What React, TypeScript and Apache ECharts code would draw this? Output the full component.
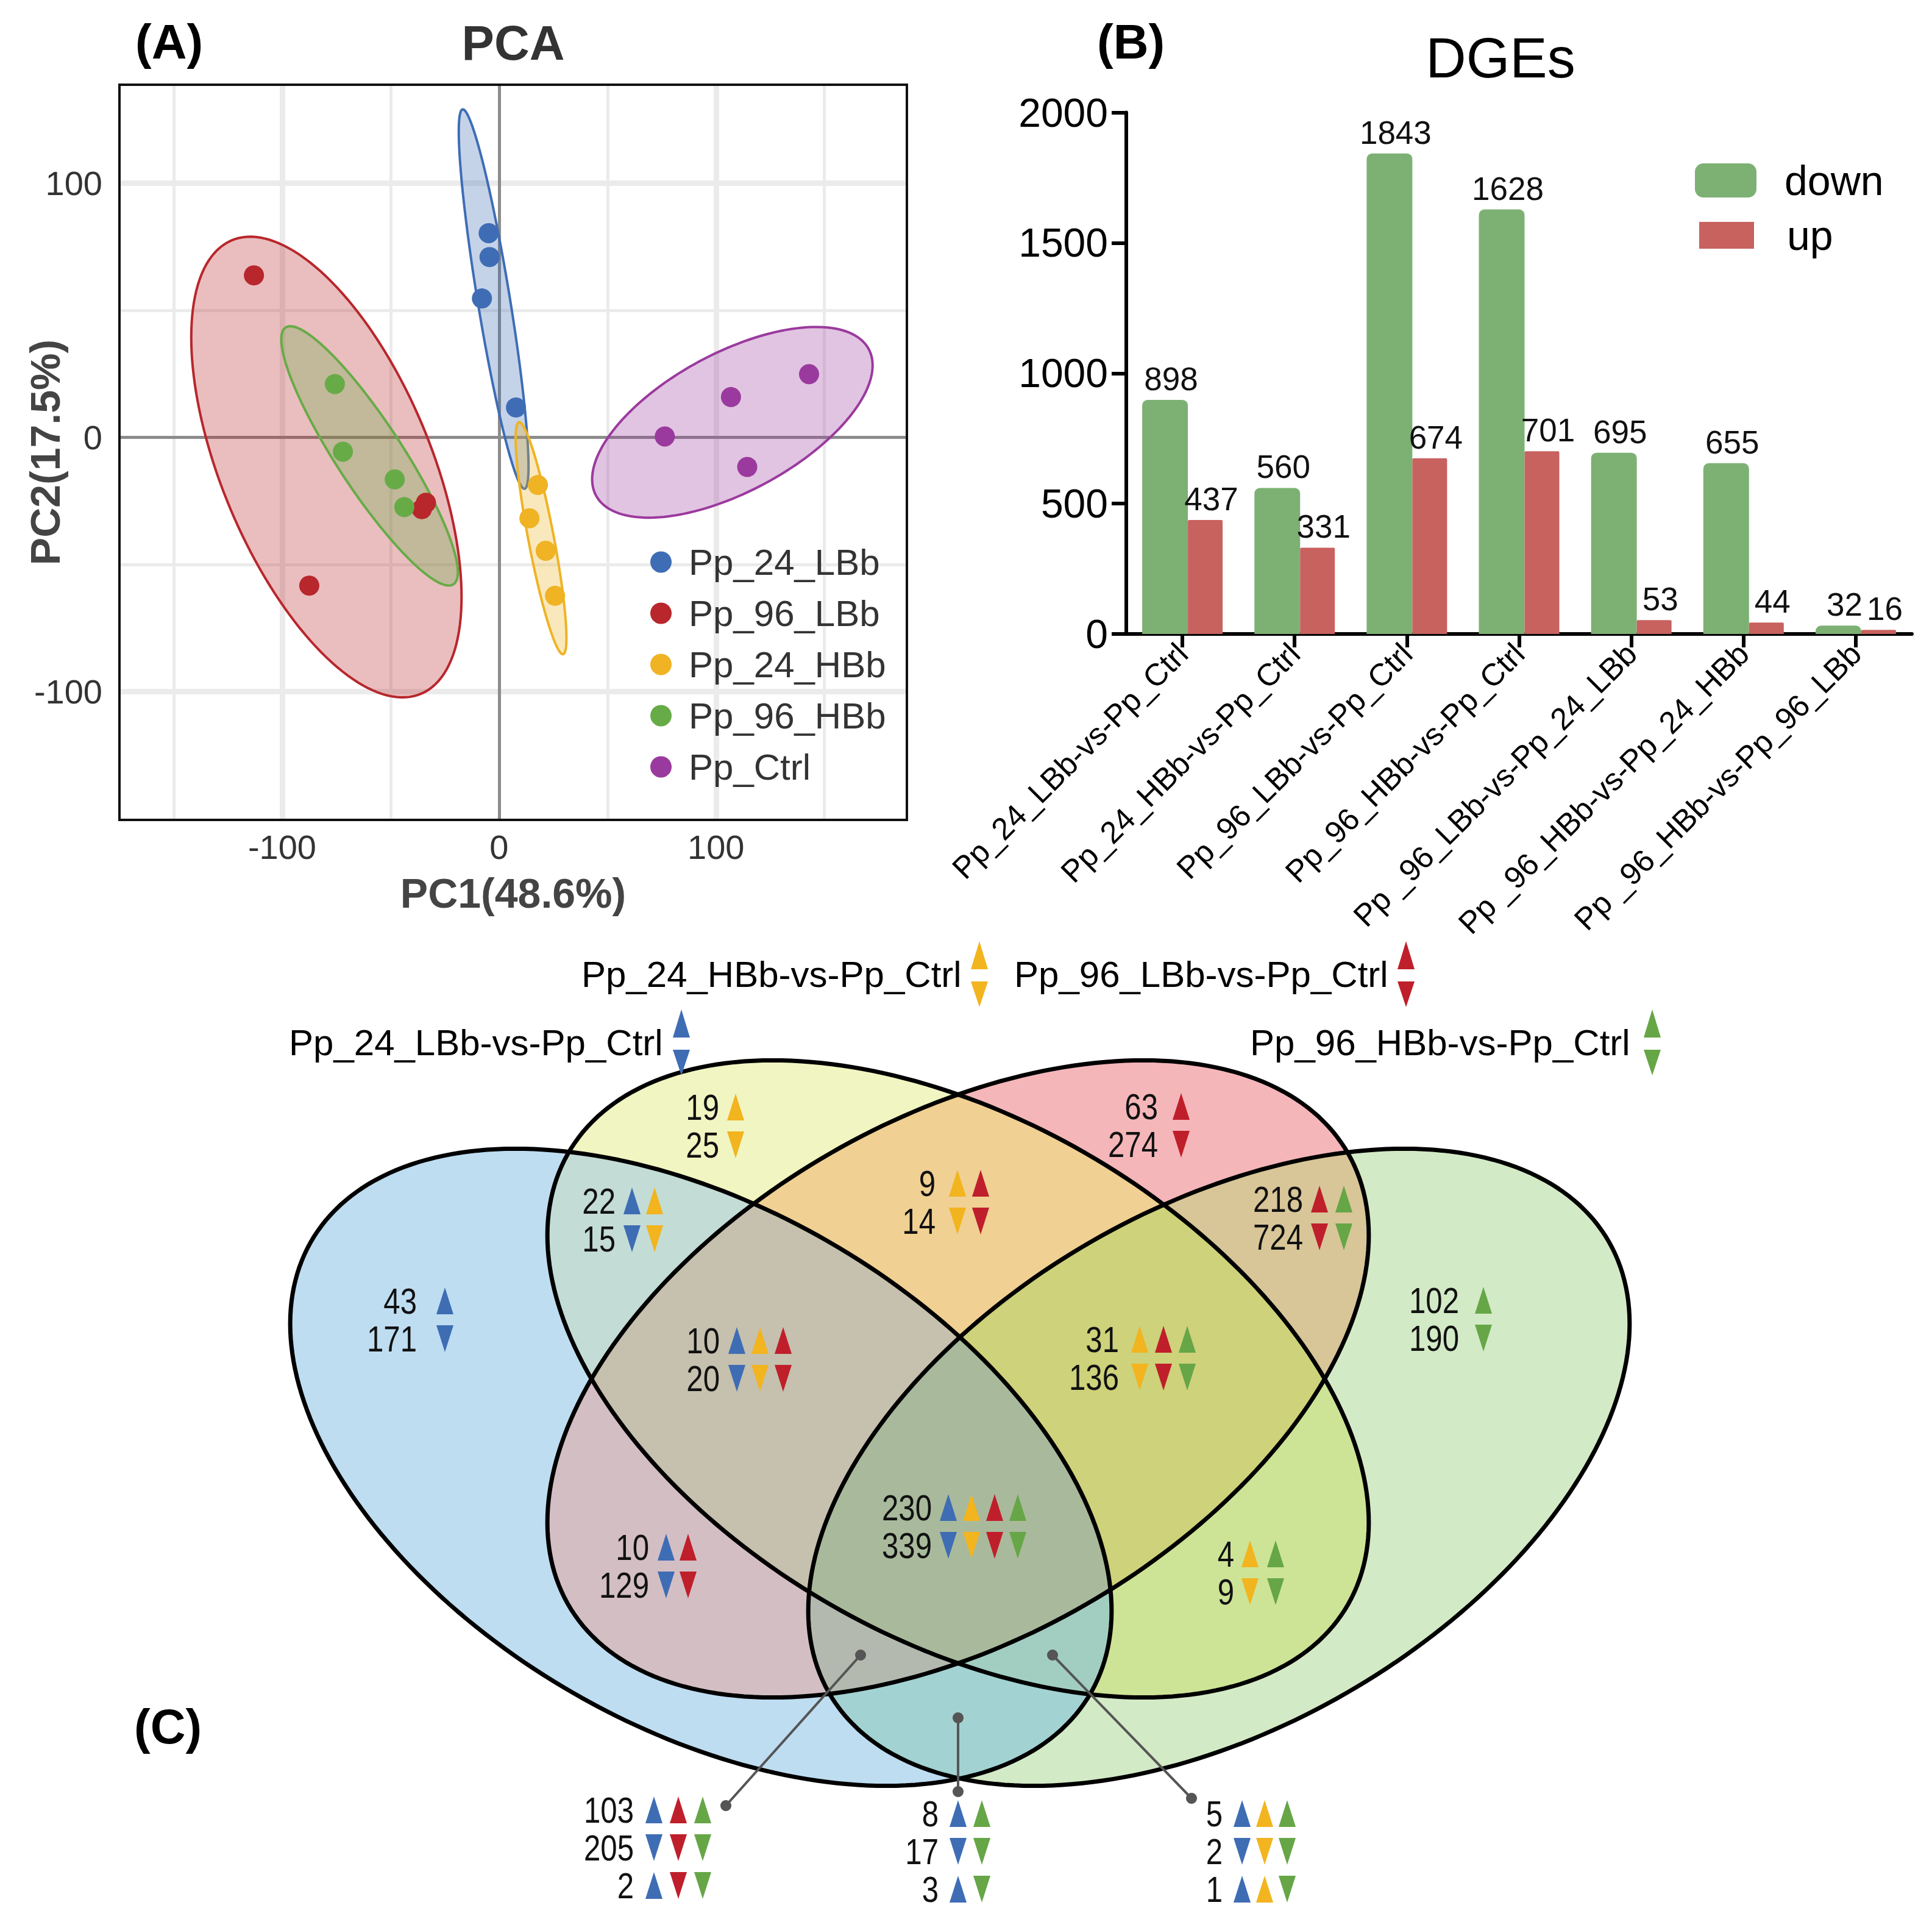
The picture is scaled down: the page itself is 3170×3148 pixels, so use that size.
import React, { useEffect, useRef } from "react";
import * as echarts from "echarts";

const FONT = "'Liberation Sans', Arial, Helvetica, sans-serif";

// ---------------- (A) PCA data ----------------
const pcaGroups = ["Pp_24_LBb", "Pp_96_LBb", "Pp_24_HBb", "Pp_96_HBb", "Pp_Ctrl"];
const pcaPoints: number[][][] = [
  [[-4.8, 80.4], [-4.4, 71.0], [-7.9, 54.7], [7.8, 11.8]],
  [[-113.0, 63.8], [-87.5, -58.3], [-33.7, -25.7], [-35.6, -28.2]],
  [[17.9, -18.7], [14.0, -31.8], [21.5, -44.6], [25.8, -62.3]],
  [[-75.7, 21.0], [-72.0, -5.6], [-48.1, -16.5], [-43.7, -27.4]],
  [[76.4, 0.4], [106.9, 15.9], [142.9, 24.9], [114.4, -11.6]],
];
// confidence ellipses: centre and two conjugate semi-diameters (data units)
const pcaEllipseCenter = [[-2.5, 54.45], [-79.6, -11.65], [19.35, -39.65], [-59.7, -7.25], [107.55, 5.95]];
const pcaEllipseU = [[-14.2, 74.65], [62.3, -51.05], [-10.05, 45.65], [40.7, -45.8], [64.65, 22.4]];
const pcaEllipseV = [[7.55, 0], [0, 74.9], [6.0, 0], [0, 22.5], [0, 30.1]];
const pcaXTicks = [-100, 0, 100];
const pcaYTicks = [-100, 0, 100];
const pcaXGrid = [-150, -100, -50, 50, 100, 150];
const pcaYGrid = [-100, -50, 50, 100];

// ---------------- (B) DGEs data ----------------
const dgeCategories = [
  "Pp_24_LBb-vs-Pp_Ctrl",
  "Pp_24_HBb-vs-Pp_Ctrl",
  "Pp_96_LBb-vs-Pp_Ctrl",
  "Pp_96_HBb-vs-Pp_Ctrl",
  "Pp _96_LBb-vs-Pp_24_LBb",
  "Pp _96_HBb-vs-Pp_24_HBb",
  "Pp _96_HBb-vs-Pp_96_LBb",
];
const dgeDown = [898, 560, 1843, 1628, 695, 655, 32];
const dgeUp = [437, 331, 674, 701, 53, 44, 16];

// ---------------- (C) Venn data ----------------
const vennSets = ["Pp_24_LBb-vs-Pp_Ctrl", "Pp_24_HBb-vs-Pp_Ctrl", "Pp_96_LBb-vs-Pp_Ctrl", "Pp_96_HBb-vs-Pp_Ctrl"];
const vennRegionSets = [[0], [1], [2], [3], [0, 1], [1, 2], [2, 3], [0, 1, 2], [1, 2, 3], [0, 1, 2, 3], [0, 2], [1, 3], [0, 2, 3], [0, 3], [0, 1, 3]];
const vennUp = [43, 19, 63, 102, 22, 9, 218, 10, 31, 230, 10, 4, 103, 8, 5];
const vennDown = [171, 25, 274, 190, 15, 14, 724, 20, 136, 339, 129, 9, 205, 17, 2];
const vennMixedCount: Record<number, number> = { 12: 2, 13: 3, 14: 1 };
const vennMixedDirs: Record<number, number[]> = { 12: [1, -1, -1], 13: [1, -1], 14: [1, 1, -1] };

// ---------------- styles / layout ----------------
const pcaColors = ["#3F6DB5", "#B8272C", "#EFB324", "#67AB47", "#9B3A9E"];
const barGreen = "#7DB174";
const barRed = "#C8625F";
const vennMark = ["#3E6DB4", "#F2B41F", "#BF1F2B", "#66A647"];
// fill colour of each Venn region, same order as vennRegionSets
const vennRegionFill = [
  "#BEDDF1", "#F1F5C1", "#F5B6B9", "#D3EAC6",
  "#C3DCD6", "#F0D093", "#D8C698", "#C6C0AE",
  "#CED27A", "#A9BA9C", "#D3BEC4", "#CDE496",
  "#B4B9AF", "#A3D2D2", "#A2CEC2",
];
const vennCenters = [[1150, 2407], [1572, 2262], [1572, 2262], [2000, 2407]];
const vennAxisA = [[-574, -445], [-574, -445], [574, -445], [574, -445]];
const vennAxisB = [[-353, 274], [-353, 274], [353, 274], [353, 274]];
const vennSetLabelPos = [[474, 1731, 1104], [954, 1619, 1593], [1664, 1619, 2293], [2051, 1731, 2697]];
const vennNumRight = [684, 1180, 1900, 2394, 1010, 1535, 2138, 1181, 1836, 1529, 1065, 2025, 1040, 1540, 2006];
const vennLineY = [2134, 1816, 1815, 2133, 1970, 1941, 1967, 2199, 2197, 2473, 2538, 2549, 2969, 2975, 2975];
const vennTriX = [716, 1193, 1924, 2420, 1023, 1557, 2151, 1195, 1856, 1542, 1079, 2037, 1059, 1558, 2024];
const vennTriPitch = [38, 38, 38, 38, 37, 38, 40, 38, 39, 38, 36, 42, 40, 39, 37];
const vennCallouts = [
  [[1412, 2715], [1191, 2962]],
  [[1572, 2818], [1572, 2939]],
  [[1727, 2715], [1955, 2950]],
];

function hexA(hex: string, a: number) {
  const n = parseInt(hex.slice(1), 16);
  return `rgba(${(n >> 16) & 255},${(n >> 8) & 255},${n & 255},${a})`;
}

function ellipsePoints(i: number, n = 240) {
  const c = vennCenters[i], a = vennAxisA[i], b = vennAxisB[i];
  const pts: number[][] = [];
  for (let k = 0; k < n; k++) {
    const t = (2 * Math.PI * k) / n;
    pts.push([c[0] + a[0] * Math.cos(t) + b[0] * Math.sin(t), c[1] + a[1] * Math.cos(t) + b[1] * Math.sin(t)]);
  }
  return pts;
}

function signedArea(p: number[][]) {
  let s = 0;
  for (let i = 0; i < p.length; i++) {
    const a = p[i], b = p[(i + 1) % p.length];
    s += a[0] * b[1] - b[0] * a[1];
  }
  return s / 2;
}

// Sutherland–Hodgman clipping of a polygon by a convex polygon
function clipConvex(subject: number[][], clipper: number[][]) {
  const sgn = signedArea(clipper) > 0 ? 1 : -1;
  let output = subject;
  for (let i = 0; i < clipper.length && output.length; i++) {
    const a = clipper[i], b = clipper[(i + 1) % clipper.length];
    const side = (p: number[]) => sgn * ((b[0] - a[0]) * (p[1] - a[1]) - (b[1] - a[1]) * (p[0] - a[0]));
    const inter = (p: number[], q: number[]) => {
      const sp = side(p), sq = side(q);
      const t = sp / (sp - sq);
      return [p[0] + (q[0] - p[0]) * t, p[1] + (q[1] - p[1]) * t];
    };
    const input = output;
    output = [];
    for (let j = 0; j < input.length; j++) {
      const cur = input[j], prev = input[(j + input.length - 1) % input.length];
      const ci = side(cur) >= 0, pi = side(prev) >= 0;
      if (ci) {
        if (!pi) output.push(inter(prev, cur));
        output.push(cur);
      } else if (pi) {
        output.push(inter(prev, cur));
      }
    }
  }
  return output;
}

function tri(x: number, yc: number, w: number, h: number, up: boolean, color: string) {
  const pts = up
    ? [[x, yc + h / 2], [x + w, yc + h / 2], [x + w / 2, yc - h / 2]]
    : [[x, yc - h / 2], [x + w, yc - h / 2], [x + w / 2, yc + h / 2]];
  return { type: "polygon", silent: true, shape: { points: pts }, style: { fill: color } };
}

function txt(text: string, x: number, y: number, size: number, opts: any = {}) {
  const align = opts.align || "left";
  return {
    type: "text",
    silent: true,
    x,
    y,
    scaleX: opts.scaleX || 1,
    style: {
      text,
      fontSize: size,
      fontFamily: FONT,
      fontWeight: opts.bold ? "bold" : "normal",
      fill: opts.color || "#000",
      align,
      textAlign: align,
      verticalAlign: "middle",
      textVerticalAlign: "middle",
    },
  };
}

function buildGraphics() {
  const els: any[] = [];
  // panel letters & titles
  els.push(txt("(A)", 222, 68, 80, { bold: true }));
  els.push(txt("PCA", 842, 70, 80, { bold: true, color: "#333", align: "center" }));
  els.push(txt("(B)", 1800, 68, 80, { bold: true }));
  els.push(txt("DGEs", 2462, 95, 92, { align: "center" }));
  els.push(txt("(C)", 220, 2832, 80, { bold: true }));

  // Venn region fills: paint intersections from fewest to most sets
  const ell = [0, 1, 2, 3].map((i) => ellipsePoints(i));
  const order = vennRegionSets.map((s, i) => i).sort((a, b) => vennRegionSets[a].length - vennRegionSets[b].length);
  for (const r of order) {
    const sets = vennRegionSets[r];
    let poly = ell[sets[0]];
    for (let k = 1; k < sets.length; k++) poly = clipConvex(poly, ell[sets[k]]);
    if (poly.length > 2) {
      els.push({ type: "polygon", silent: true, shape: { points: poly }, style: { fill: vennRegionFill[r], stroke: vennRegionFill[r], lineWidth: 1 } });
    }
  }
  // Venn outlines
  for (let i = 0; i < 4; i++) {
    els.push({ type: "polygon", silent: true, shape: { points: ell[i] }, style: { fill: "none", stroke: "#000", lineWidth: 7 } });
  }
  // set labels
  vennSets.forEach((name, i) => {
    const [x, base, tx] = vennSetLabelPos[i];
    els.push(txt(name, x, base - 21, 60));
    els.push(tri(tx, base - 52, 28, 46, true, vennMark[i]));
    els.push(tri(tx, base + 12, 28, 42, false, vennMark[i]));
  });
  // region counts
  vennRegionSets.forEach((sets, r) => {
    const lines: { n: number; dirs: number[] }[] = [
      { n: vennUp[r], dirs: sets.map(() => 1) },
      { n: vennDown[r], dirs: sets.map(() => -1) },
    ];
    if (vennMixedCount[r] !== undefined) lines.push({ n: vennMixedCount[r], dirs: vennMixedDirs[r] });
    lines.forEach((ln, k) => {
      const y = vennLineY[r] + k * 62;
      els.push(txt(String(ln.n), vennNumRight[r], y, 60, { align: "right", scaleX: 0.82, color: "#111" }));
      sets.forEach((s, m) => {
        els.push(tri(vennTriX[r] + m * vennTriPitch[r], y, 28, 44, ln.dirs[m] > 0, vennMark[s]));
      });
    });
  });
  // callouts
  vennCallouts.forEach(([p, q]) => {
    els.push({ type: "line", silent: true, shape: { x1: p[0], y1: p[1], x2: q[0], y2: q[1] }, style: { stroke: "#555", lineWidth: 4 } });
    els.push({ type: "circle", silent: true, shape: { cx: p[0], cy: p[1], r: 9 }, style: { fill: "#555" } });
    els.push({ type: "circle", silent: true, shape: { cx: q[0], cy: q[1], r: 9 }, style: { fill: "#555" } });
  });
  return els;
}

function buildOption(): any {
  const gridLineStyle = (v: number) => ({ color: "#ebebeb", width: Math.abs(v) % 100 === 0 ? 9 : 5, type: "solid" });
  const ellipseSeries = {
    type: "custom",
    name: "ellipses",
    xAxisIndex: 0,
    yAxisIndex: 0,
    z: 2,
    clip: true,
    silent: true,
    data: pcaEllipseCenter.map((c, i) => [c[0], c[1], pcaEllipseU[i][0], pcaEllipseU[i][1], pcaEllipseV[i][0], pcaEllipseV[i][1]]),
    encode: { x: 0, y: 1 },
    renderItem: (params: any, api: any) => {
      const cx = api.value(0), cy = api.value(1), ux = api.value(2), uy = api.value(3), vx = api.value(4), vy = api.value(5);
      const pts: number[][] = [];
      for (let k = 0; k < 160; k++) {
        const t = (k / 160) * 2 * Math.PI;
        pts.push(api.coord([cx + ux * Math.cos(t) + vx * Math.sin(t), cy + uy * Math.cos(t) + vy * Math.sin(t)]));
      }
      const col = pcaColors[params.dataIndex];
      return { type: "polygon", shape: { points: pts }, style: { fill: hexA(col, 0.3), stroke: col, lineWidth: 4 } };
    },
    markLine: {
      z: 1,
      silent: true,
      symbol: "none",
      label: { show: false },
      animation: false,
      data: [
        ...pcaXGrid.map((v) => ({ xAxis: v, lineStyle: gridLineStyle(v) })),
        ...pcaYGrid.map((v) => ({ yAxis: v, lineStyle: gridLineStyle(v) })),
        { xAxis: 0, lineStyle: { color: "#8c8c8c", width: 5, type: "solid" } },
        { yAxis: 0, lineStyle: { color: "#8c8c8c", width: 5, type: "solid" } },
      ],
    },
  };

  const scatterSeries = pcaGroups.map((g, i) => ({
    type: "scatter",
    name: g,
    xAxisIndex: 0,
    yAxisIndex: 0,
    z: 3,
    symbolSize: 33,
    data: pcaPoints[i],
    itemStyle: { color: pcaColors[i], opacity: 1 },
  }));

  const barLabel = { show: true, position: "top", fontSize: 53, color: "#111", distance: 8, offset: [10, 0], fontFamily: FONT };
  const barSeries = [
    {
      type: "bar",
      name: "down",
      xAxisIndex: 1,
      yAxisIndex: 1,
      data: dgeDown,
      barWidth: 75,
      barGap: "0%",
      itemStyle: { color: barGreen, borderRadius: [9, 9, 0, 0] },
      label: barLabel,
    },
    {
      type: "bar",
      name: "up",
      xAxisIndex: 1,
      yAxisIndex: 1,
      data: dgeUp,
      barWidth: 57,
      barGap: "0%",
      itemStyle: { color: barRed, borderRadius: [2, 2, 0, 0] },
      label: barLabel,
    },
  ];

  return {
    animation: false,
    backgroundColor: "#fff",
    textStyle: { fontFamily: FONT },
    grid: [
      {
        left: 196, top: 139, width: 1292, height: 1206, show: true, borderColor: "#111", borderWidth: 4,
        backgroundColor: "rgba(0,0,0,0)", z: 10, containLabel: false, outerBoundsMode: "none",
      },
      { left: 1848, top: 184.5, width: 1289, height: 855.5, containLabel: false, outerBoundsMode: "none" },
    ],
    xAxis: [
      {
        type: "value",
        gridIndex: 0,
        min: -175,
        max: 188,
        axisLine: { show: false },
        axisTick: { show: true, length: 13, lineStyle: { color: "#333", width: 4 }, customValues: pcaXTicks },
        axisLabel: { color: "#333", fontSize: 56, margin: 16, customValues: pcaXTicks },
        splitLine: { show: false },
        name: "PC1(48.6%)",
        nameLocation: "middle",
        nameGap: 86,
        nameMoveOverlap: false,
        nameTextStyle: { fontSize: 68, fontWeight: "bold", color: "#444" },
      },
      {
        type: "category",
        gridIndex: 1,
        data: dgeCategories,
        axisLine: { show: true, lineStyle: { color: "#000", width: 6 } },
        axisTick: { show: true, alignWithLabel: true, length: 22, lineStyle: { color: "#000", width: 6 } },
        axisLabel: { rotate: 45, interval: 0, fontSize: 51, color: "#000", margin: 24 },
      },
    ],
    yAxis: [
      {
        type: "value",
        gridIndex: 0,
        min: -150.5,
        max: 138.8,
        axisLine: { show: false },
        axisTick: { show: true, length: 13, lineStyle: { color: "#333", width: 4 }, customValues: pcaYTicks },
        axisLabel: { color: "#333", fontSize: 56, margin: 28, customValues: pcaYTicks },
        splitLine: { show: false },
        name: "PC2(17.5%)",
        nameLocation: "middle",
        nameGap: 88,
        nameMoveOverlap: false,
        nameTextStyle: { fontSize: 68, fontWeight: "bold", color: "#444" },
      },
      {
        type: "value",
        gridIndex: 1,
        min: 0,
        max: 2000,
        interval: 500,
        axisLine: { show: true, lineStyle: { color: "#000", width: 6 } },
        axisTick: { show: true, length: 24, lineStyle: { color: "#000", width: 6 } },
        axisLabel: { fontSize: 66, color: "#000", margin: 30, formatter: (v: number) => String(v) },
        splitLine: { show: false },
      },
    ],
    legend: [
      {
        data: pcaGroups,
        orient: "vertical",
        left: 1067,
        top: 892,
        padding: 0,
        itemWidth: 35,
        itemHeight: 35,
        itemGap: 24,
        icon: "circle",
        selectedMode: false,
        textStyle: { fontSize: 60, color: "#333", lineHeight: 35, padding: [0, 0, 0, 23], fontFamily: FONT },
      },
      {
        data: [{ name: "down", icon: "roundRect" }],
        left: 2781,
        top: 262,
        padding: 0,
        itemWidth: 101,
        itemHeight: 56,
        selectedMode: false,
        textStyle: { fontSize: 68, color: "#000", lineHeight: 56, padding: [0, 0, 0, 41], fontFamily: FONT },
      },
      {
        data: [{ name: "up", icon: "rect" }],
        left: 2788,
        top: 352,
        padding: 0,
        itemWidth: 90,
        itemHeight: 44,
        selectedMode: false,
        textStyle: { fontSize: 68, color: "#000", lineHeight: 44, padding: [0, 0, 0, 49], fontFamily: FONT },
      },
    ],
    series: [ellipseSeries, ...scatterSeries, ...barSeries],
    graphic: { elements: buildGraphics() },
  };
}

export default function App() {
  const ref = useRef<HTMLDivElement>(null);
  useEffect(() => {
    document.body.style.margin = "0";
    document.body.style.overflow = "hidden";
    const chart = echarts.init(ref.current!, null, { renderer: "svg" });
    chart.setOption(buildOption());
    return () => chart.dispose();
  }, []);
  return <div ref={ref} style={{ width: 3170, height: 3148 }} />;
}
